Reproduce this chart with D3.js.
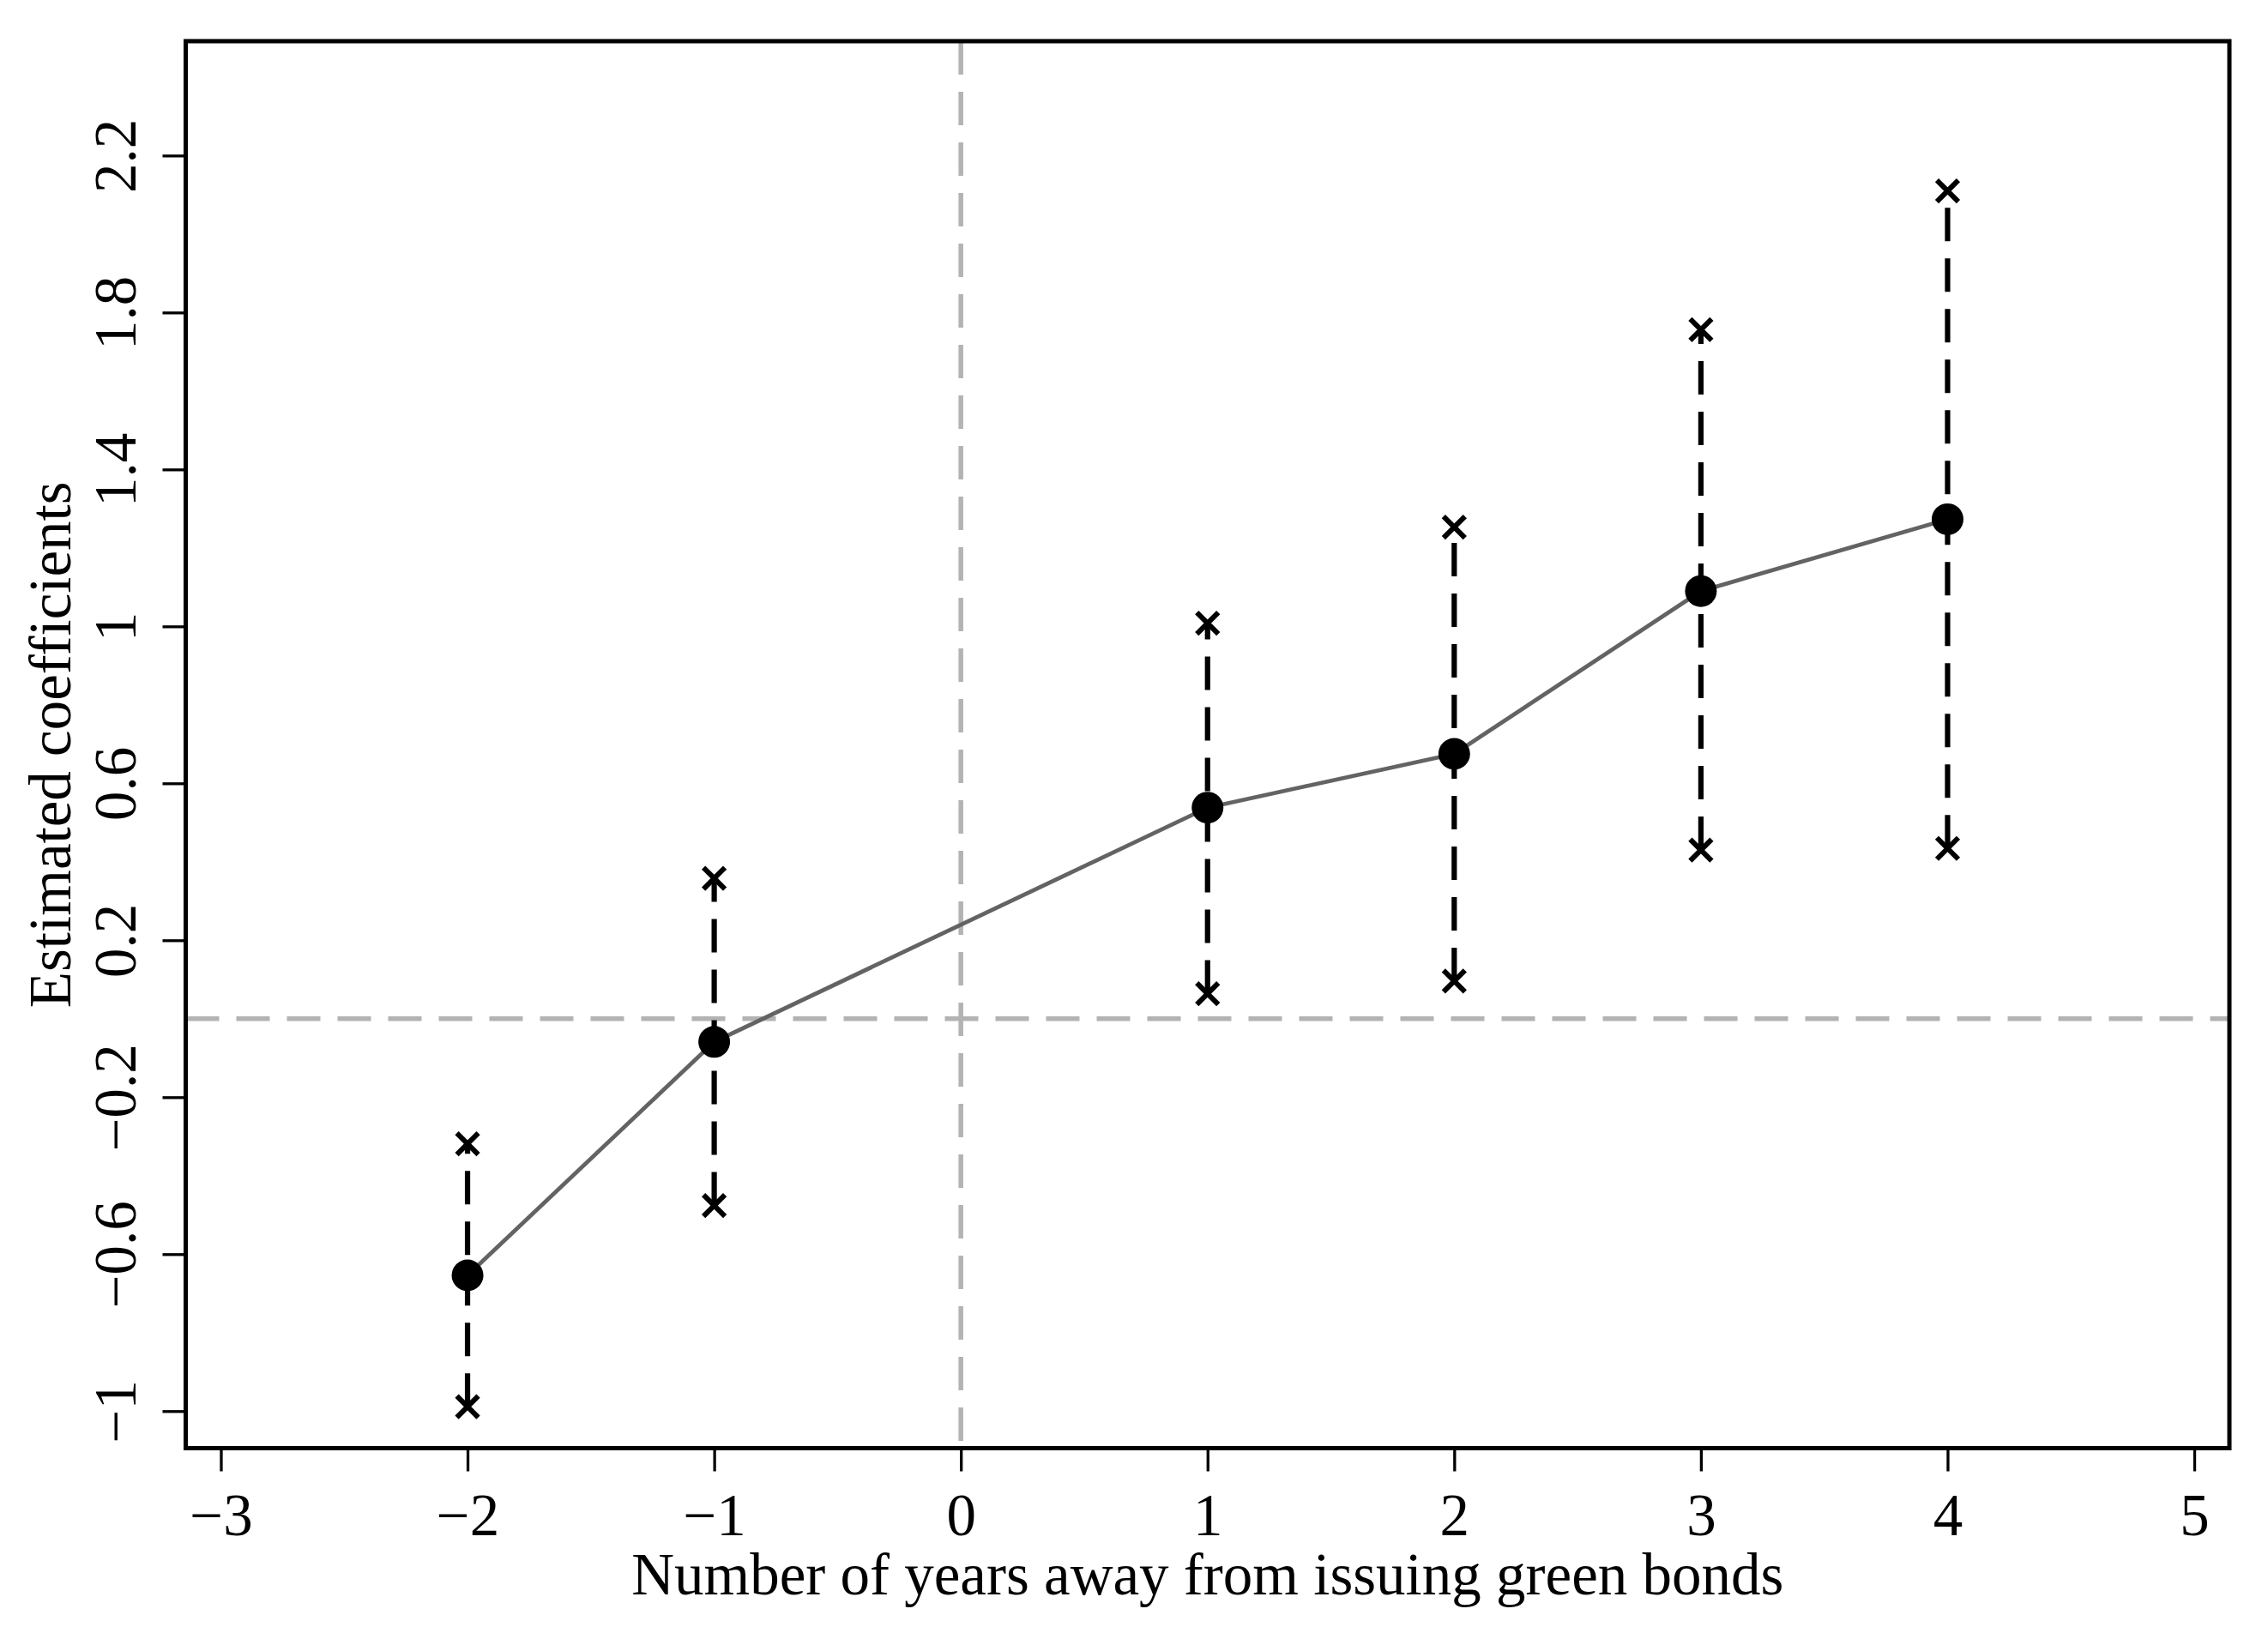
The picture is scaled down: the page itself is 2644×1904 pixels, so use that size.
<!DOCTYPE html>
<html>
<head>
<meta charset="utf-8">
<script src="https://cdn.jsdelivr.net/npm/d3@7"></script>
<style>
  html, body { margin: 0; padding: 0; background: #fff; }
  svg { display: block; }
  text { font-family: "Liberation Serif", "Times New Roman", serif; fill: #000; }
</style>
</head>
<body>
<svg id="chart" width="2644" height="1904"></svg>
<script>
// ---- Data ----
const years = [-2, -1, 1, 2, 3, 4];
const coefficients = [-0.654, -0.059, 0.538, 0.675, 1.090, 1.273];
const upperCI = [-0.319, 0.358, 1.008, 1.253, 1.756, 2.110];
const lowerCI = [-0.989, -0.476, 0.064, 0.096, 0.430, 0.434];

const xTicks = [-3, -2, -1, 0, 1, 2, 3, 4, 5];
const yTicks = [-1, -0.6, -0.2, 0.2, 0.6, 1, 1.4, 1.8, 2.2];
const xTickLabels = ["\u22123", "\u22122", "\u22121", "0", "1", "2", "3", "4", "5"];
const yTickLabels = ["\u22121", "\u22120.6", "\u22120.2", "0.2", "0.6", "1", "1.4", "1.8", "2.2"];

const xTitle = "Number of years away from issuing green bonds";
const yTitle = "Estimated coefficients";

// ---- Layout ----
const plotLeft = 216.5, plotRight = 2599, plotTop = 48, plotBottom = 1688.5;
const fontSize = 69;

const svg = d3.select("#chart");

const x = d3.scaleLinear().domain([-3.1425, 5.1425]).range([plotLeft, plotRight]);
const y = d3.scaleLinear().domain([-1.0945, 2.4915]).range([plotBottom, plotTop]);

// Reference lines (gray dashed)
svg.append("line")
  .attr("x1", plotLeft).attr("x2", plotRight)
  .attr("y1", y(0)).attr("y2", y(0))
  .attr("stroke", "#b3b3b3").attr("stroke-width", 5.5)
  .attr("stroke-dasharray", "39,20");
svg.append("line")
  .attr("x1", x(0)).attr("x2", x(0))
  .attr("y1", plotTop).attr("y2", plotBottom)
  .attr("stroke", "#b3b3b3").attr("stroke-width", 5.5)
  .attr("stroke-dasharray", "39,20");

const pts = years.map((yr, i) => ({ yr, c: coefficients[i], hi: upperCI[i], lo: lowerCI[i] }));

// Connecting line
svg.append("path")
  .datum(pts)
  .attr("fill", "none")
  .attr("stroke", "#636363")
  .attr("stroke-width", 4.8)
  .attr("d", d3.line().x(d => x(d.yr)).y(d => y(d.c)));

// Confidence interval spikes (black dashed, drawn lower -> upper)
svg.append("g").selectAll("line")
  .data(pts).join("line")
  .attr("x1", d => x(d.yr)).attr("x2", d => x(d.yr))
  .attr("y1", d => y(d.lo)).attr("y2", d => y(d.hi))
  .attr("stroke", "#000").attr("stroke-width", 6.2)
  .attr("stroke-dasharray", "39,20");

// X markers at CI ends
const xm = 12.5;
const ends = pts.flatMap(d => [{ yr: d.yr, v: d.hi }, { yr: d.yr, v: d.lo }]);
svg.append("g").selectAll("path")
  .data(ends).join("path")
  .attr("fill", "none").attr("stroke", "#000").attr("stroke-width", 6)
  .attr("d", d => {
    const cx = x(d.yr), cy = y(d.v);
    return `M${cx - xm},${cy - xm}L${cx + xm},${cy + xm}M${cx - xm},${cy + xm}L${cx + xm},${cy - xm}`;
  });

// Point estimates
svg.append("g").selectAll("circle")
  .data(pts).join("circle")
  .attr("cx", d => x(d.yr)).attr("cy", d => y(d.c))
  .attr("r", 18.5).attr("fill", "#000");

// Axes
const xAxis = d3.axisBottom(x)
  .tickValues(xTicks)
  .tickFormat((d, i) => xTickLabels[i])
  .tickSize(27).tickPadding(0).tickSizeOuter(0);
const gx = svg.append("g").attr("transform", `translate(0,${plotBottom})`).call(xAxis);
gx.select(".domain").remove();
gx.selectAll(".tick line").attr("stroke", "#000").attr("stroke-width", 3.3);
gx.selectAll(".tick text")
  .attr("y", 101).attr("dy", null)
  .style("font-size", fontSize + "px")
  .attr("font-family", "Liberation Serif");

const yAxis = d3.axisLeft(y)
  .tickValues(yTicks)
  .tickFormat((d, i) => yTickLabels[i])
  .tickSize(27).tickPadding(0).tickSizeOuter(0);
const gy = svg.append("g").attr("transform", `translate(${plotLeft},0)`).call(yAxis);
gy.select(".domain").remove();
gy.selectAll(".tick line").attr("stroke", "#000").attr("stroke-width", 3.3);
gy.selectAll(".tick text")
  .attr("x", null).attr("dy", null)
  .attr("text-anchor", "middle")
  .attr("transform", `translate(${158 - plotLeft},0) rotate(-90)`)
  .style("font-size", fontSize + "px")
  .attr("font-family", "Liberation Serif");

// Frame
svg.append("rect")
  .attr("x", plotLeft).attr("y", plotTop)
  .attr("width", plotRight - plotLeft).attr("height", plotBottom - plotTop)
  .attr("fill", "none").attr("stroke", "#000").attr("stroke-width", 5);

// Titles
svg.append("text")
  .attr("x", (plotLeft + plotRight) / 2).attr("y", 1859)
  .attr("text-anchor", "middle")
  .style("font-size", fontSize + "px")
  .text(xTitle);

svg.append("text")
  .attr("transform", `translate(82,${(plotTop + plotBottom) / 2}) rotate(-90)`)
  .attr("text-anchor", "middle")
  .style("font-size", fontSize + "px")
  .text(yTitle);
</script>
</body>
</html>
